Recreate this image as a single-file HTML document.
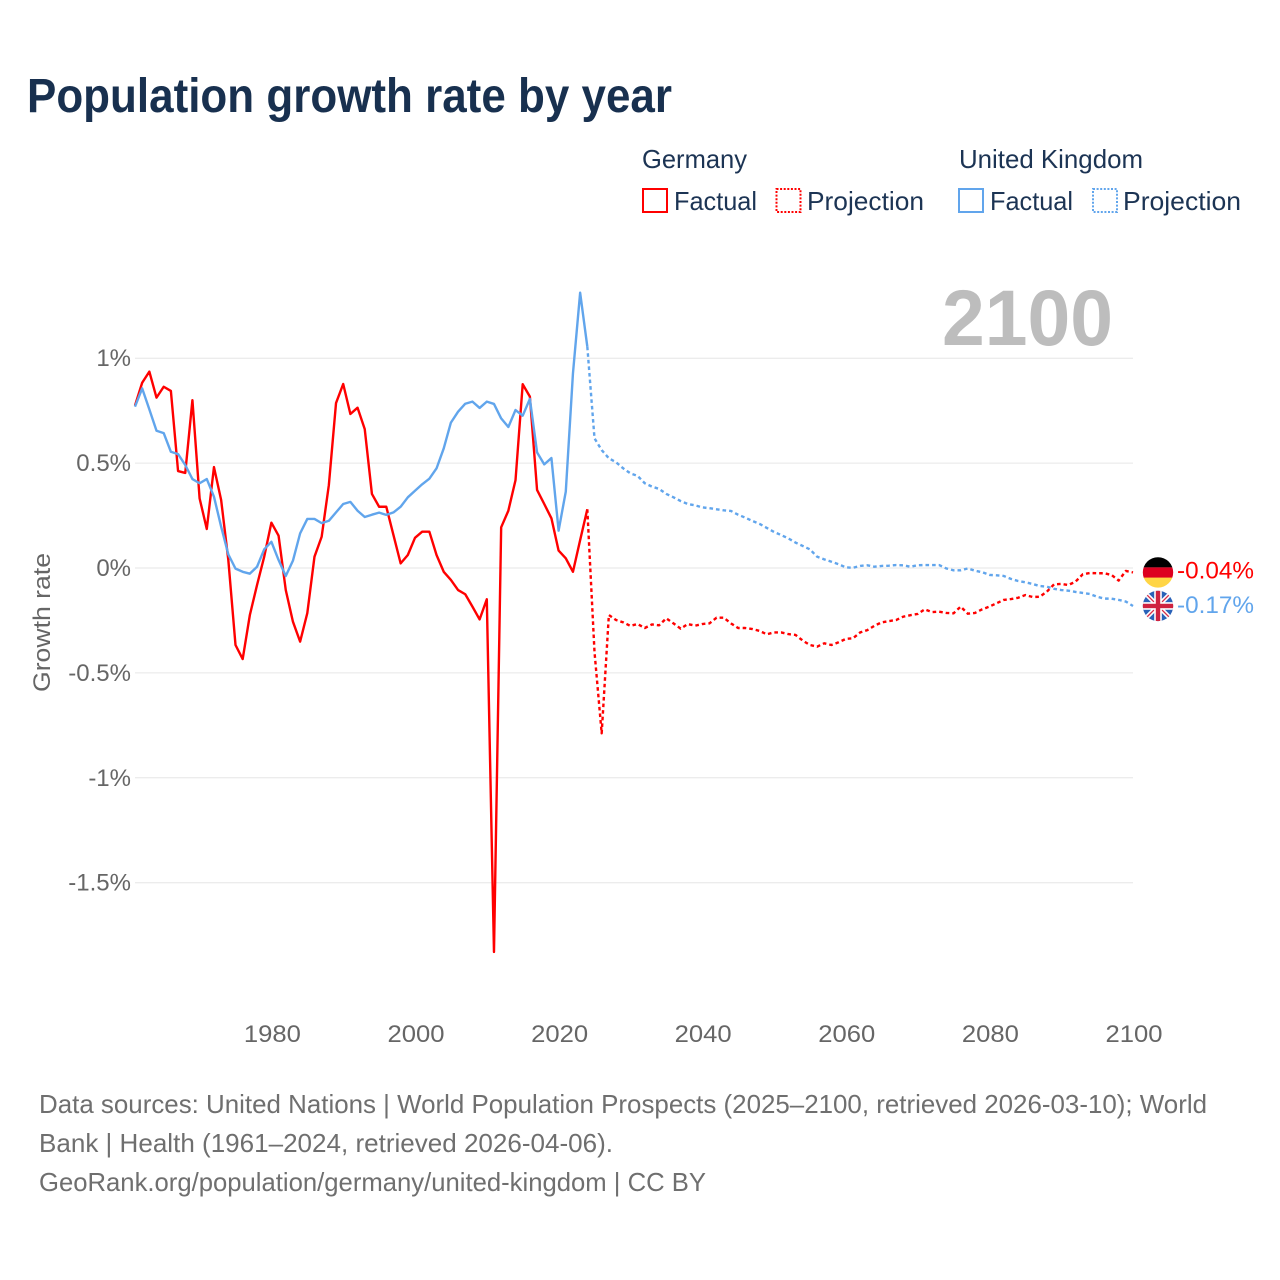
<!DOCTYPE html>
<html lang="en">
<head>
<meta charset="utf-8">
<title>Population growth rate by year</title>
<style>
html,body{margin:0;padding:0;background:#fff}
svg{display:block}
text{font-family:"Liberation Sans",sans-serif}
</style>
</head>
<body>
<svg id="chart" xmlns="http://www.w3.org/2000/svg" width="1280" height="1280" viewBox="0 0 1280 1280">
  <rect width="1280" height="1280" fill="#fff"/>
  <text x="27" y="112" font-size="48" font-weight="700" fill="#18304f" textLength="645" lengthAdjust="spacingAndGlyphs">Population growth rate by year</text>

  <g font-size="26" fill="#1c3454">
    <text x="642" y="168" textLength="105" lengthAdjust="spacingAndGlyphs">Germany</text>
    <text x="959" y="168" textLength="184" lengthAdjust="spacingAndGlyphs">United Kingdom</text>
    <rect x="643" y="189" width="24" height="23" fill="none" stroke="#ff0000" stroke-width="2"/>
    <text x="674" y="210" textLength="83" lengthAdjust="spacingAndGlyphs">Factual</text>
    <rect x="776.5" y="189" width="24" height="23" fill="none" stroke="#ff0000" stroke-width="2" stroke-dasharray="2 1.6"/>
    <text x="807" y="210" textLength="117" lengthAdjust="spacingAndGlyphs">Projection</text>
    <rect x="959" y="189" width="24" height="23" fill="none" stroke="#61a5ec" stroke-width="2"/>
    <text x="990" y="210" textLength="83" lengthAdjust="spacingAndGlyphs">Factual</text>
    <rect x="1093" y="189" width="24" height="23" fill="none" stroke="#61a5ec" stroke-width="2" stroke-dasharray="2 1.6"/>
    <text x="1123" y="210" textLength="118" lengthAdjust="spacingAndGlyphs">Projection</text>
  </g>

  <g id="grid"></g>
  <g id="y-labels" font-size="24" fill="#666" text-anchor="end"></g>
  <g id="x-labels" font-size="24" fill="#666" text-anchor="middle"></g>
  <text transform="translate(50 692) rotate(-90)" font-size="24" fill="#666" textLength="139" lengthAdjust="spacingAndGlyphs">Growth rate</text>

  <text x="942" y="345" font-size="79" font-weight="700" fill="#bdbdbd" textLength="171" lengthAdjust="spacingAndGlyphs">2100</text>

  <g id="series"></g>

  <defs>
    <clipPath id="flag-de-clip"><circle cx="0" cy="0" r="15.2"/></clipPath>
    <clipPath id="flag-uk-clip"><circle cx="0" cy="0" r="15.2"/></clipPath>
  </defs>
  <g id="flag-germany" clip-path="url(#flag-de-clip)">
    <rect x="-16" y="-16" width="32" height="11" fill="#000"/>
    <rect x="-16" y="-5" width="32" height="10.5" fill="#dd0020"/>
    <rect x="-16" y="5.2" width="32" height="11" fill="#ffd545"/>
  </g>
  <g id="flag-uk" clip-path="url(#flag-uk-clip)">
    <rect x="-16" y="-16" width="32" height="32" fill="#2a62b8"/>
    <path d="M-16 -16L16 16M16 -16L-16 16" stroke="#fff" stroke-width="4.5"/>
    <path d="M-16 -16L16 16M16 -16L-16 16" stroke="#d8304a" stroke-width="1.3"/>
    <rect x="-16" y="-3.8" width="32" height="7.6" fill="#fff"/>
    <rect x="-3.8" y="-16" width="7.6" height="32" fill="#fff"/>
    <rect x="-16" y="-2.2" width="32" height="4.4" fill="#cf2340"/>
    <rect x="-2.2" y="-16" width="4.4" height="32" fill="#cf2340"/>
  </g>
  <text id="end-label-germany" x="1177" y="578" font-size="24" fill="#ff0000" textLength="77" lengthAdjust="spacingAndGlyphs"></text>
  <text id="end-label-uk" x="1177" y="612" font-size="24" fill="#61a5ec" textLength="77" lengthAdjust="spacingAndGlyphs"></text>

  <g font-size="26" fill="#6f6f6f">
    <text x="39" y="1113" textLength="1168" lengthAdjust="spacingAndGlyphs">Data sources: United Nations | World Population Prospects (2025–2100, retrieved 2026-03-10); World</text>
    <text x="39" y="1152" textLength="574" lengthAdjust="spacingAndGlyphs">Bank | Health (1961–2024, retrieved 2026-04-06).</text>
    <text x="39" y="1191" textLength="667" lengthAdjust="spacingAndGlyphs">GeoRank.org/population/germany/united-kingdom | CC BY</text>
  </g>
</svg>
<script>
const factualStartYear = 1961;
const projectionStartYear = 2024;
const xTickYears = [1980, 2000, 2020, 2040, 2060, 2080, 2100];
const yTickValues = [1, 0.5, 0, -0.5, -1, -1.5];
const yTickLabels = ['1%', '0.5%', '0%', '-0.5%', '-1%', '-1.5%'];
const endLabels = ['-0.04%', '-0.17%'];

const germanyFactual = [
  0.774, 0.883, 0.936, 0.812, 0.864, 0.844, 0.462, 0.453, 0.80, 0.332,
  0.186, 0.481, 0.324, 0.038, -0.367, -0.434, -0.224, -0.081, 0.054, 0.216,
  0.154, -0.105, -0.256, -0.351, -0.215, 0.054, 0.149, 0.395, 0.786, 0.877,
  0.734, 0.764, 0.662, 0.353, 0.292, 0.292, 0.157, 0.022, 0.062, 0.144,
  0.173, 0.173, 0.062, -0.018, -0.057, -0.105, -0.125, -0.184, -0.245, -0.149,
  -1.83, 0.194, 0.273, 0.419, 0.876, 0.817, 0.372, 0.305, 0.237, 0.083,
  0.046, -0.018, 0.133, 0.28
];
const germanyProjection = [
  0.28, -0.40, -0.788, -0.224, -0.248, -0.259, -0.276, -0.267, -0.286, -0.269,
  -0.273, -0.24, -0.264, -0.289, -0.267, -0.275, -0.267, -0.264, -0.237, -0.237,
  -0.264, -0.286, -0.286, -0.291, -0.30, -0.316, -0.307, -0.307, -0.315, -0.319,
  -0.346, -0.367, -0.375, -0.359, -0.367, -0.354, -0.338, -0.335, -0.307, -0.296,
  -0.275, -0.259, -0.253, -0.248, -0.232, -0.225, -0.219, -0.197, -0.21, -0.208,
  -0.214, -0.216, -0.184, -0.218, -0.214, -0.197, -0.184, -0.168, -0.152, -0.148,
  -0.142, -0.129, -0.138, -0.137, -0.113, -0.078, -0.076, -0.081, -0.065, -0.03,
  -0.024, -0.025, -0.025, -0.033, -0.06, -0.014, -0.021
];
const ukFactual = [
  0.769, 0.856, 0.756, 0.654, 0.643, 0.554, 0.543, 0.491, 0.424, 0.404,
  0.424, 0.34, 0.197, 0.065, -0.003, -0.018, -0.027, 0.006, 0.089, 0.125,
  0.038, -0.038, 0.035, 0.165, 0.234, 0.234, 0.214, 0.225, 0.265, 0.305,
  0.315, 0.273, 0.243, 0.254, 0.264, 0.253, 0.265, 0.292, 0.337, 0.368,
  0.399, 0.426, 0.475, 0.57, 0.693, 0.745, 0.783, 0.793, 0.763, 0.793,
  0.782, 0.713, 0.672, 0.753, 0.726, 0.806, 0.551, 0.494, 0.524, 0.178,
  0.364, 0.928, 1.312, 1.055
];
const ukProjection = [
  1.055, 0.618, 0.562, 0.523, 0.504, 0.475, 0.451, 0.439, 0.404, 0.388,
  0.377, 0.353, 0.337, 0.319, 0.305, 0.299, 0.289, 0.285, 0.28, 0.275,
  0.272, 0.254, 0.24, 0.224, 0.21, 0.191, 0.172, 0.157, 0.141, 0.121,
  0.105, 0.089, 0.054, 0.041, 0.03, 0.018, 0.003, 0.001, 0.01, 0.013,
  0.006, 0.01, 0.011, 0.014, 0.013, 0.006, 0.013, 0.014, 0.014, 0.014,
  -0.002, -0.011, -0.011, -0.002, -0.013, -0.02, -0.033, -0.035, -0.038, -0.052,
  -0.062, -0.068, -0.076, -0.086, -0.089, -0.099, -0.105, -0.108, -0.114, -0.119,
  -0.124, -0.137, -0.146, -0.146, -0.152, -0.16, -0.181
];

const NS = 'http://www.w3.org/2000/svg';
const RED = '#ff0000';
const BLUE = '#61a5ec';
function xScale(year) { return 1133 + (year - 2100) * 7.18; }
function yScale(value) { return 568 - value * 209.8; }
function buildPoints(startYear, values) {
  return values.map(function (v, i) {
    return xScale(startYear + i).toFixed(2) + ',' + yScale(v).toFixed(2);
  }).join(' ');
}

const gridGroup = document.getElementById('grid');
const yLabelGroup = document.getElementById('y-labels');
yTickValues.forEach(function (v, i) {
  const line = document.createElementNS(NS, 'line');
  
  
  line.setAttribute('x1', xScale(factualStartYear));
  line.setAttribute('x2', xScale(2100));
  line.setAttribute('y1', yScale(v));
  line.setAttribute('y2', yScale(v));
  line.setAttribute('stroke', '#e6e6e6');
  line.setAttribute('stroke-width', '1');
  gridGroup.appendChild(line);
  const label = document.createElementNS(NS, 'text');
  
  
  label.setAttribute('x', 131);
  label.setAttribute('y', yScale(v) + 8);
  label.textContent = yTickLabels[i];
  yLabelGroup.appendChild(label);
});

const xLabelGroup = document.getElementById('x-labels');
xTickYears.forEach(function (year) {
  const label = document.createElementNS(NS, 'text');
  
  
  label.setAttribute('x', xScale(year) + 1);
  label.setAttribute('y', 1042);
  label.setAttribute('textLength', 57);
  label.setAttribute('lengthAdjust', 'spacingAndGlyphs');
  label.textContent = year;
  xLabelGroup.appendChild(label);
});

const seriesGroup = document.getElementById('series');
function drawLine(name, startYear, values, color, dashed) {
  const line = document.createElementNS(NS, 'polyline');
  
  
  line.setAttribute('points', buildPoints(startYear, values));
  line.setAttribute('fill', 'none');
  line.setAttribute('stroke', color);
  line.setAttribute('stroke-width', '2.4');
  line.setAttribute('stroke-linejoin', 'round');
  if (dashed) {
    line.setAttribute('stroke-dasharray', '3.6 3');
  }
  seriesGroup.appendChild(line);
}
drawLine('germany-factual-line', factualStartYear, germanyFactual, RED, false);
drawLine('germany-projection-line', projectionStartYear, germanyProjection, RED, true);
drawLine('uk-factual-line', factualStartYear, ukFactual, BLUE, false);
drawLine('uk-projection-line', projectionStartYear, ukProjection, BLUE, true);

const lastGermany = germanyProjection[germanyProjection.length - 1];
const lastUk = ukProjection[ukProjection.length - 1];
document.getElementById('flag-germany').setAttribute('transform', 'translate(1158 ' + yScale(lastGermany) + ')');
document.getElementById('flag-uk').setAttribute('transform', 'translate(1158 ' + yScale(lastUk) + ')');
const endGermany = document.getElementById('end-label-germany');
endGermany.textContent = endLabels[0];
endGermany.setAttribute('y', yScale(lastGermany) + 6);
const endUk = document.getElementById('end-label-uk');
endUk.textContent = endLabels[1];
endUk.setAttribute('y', yScale(lastUk) + 7);
</script>
</body>
</html>
